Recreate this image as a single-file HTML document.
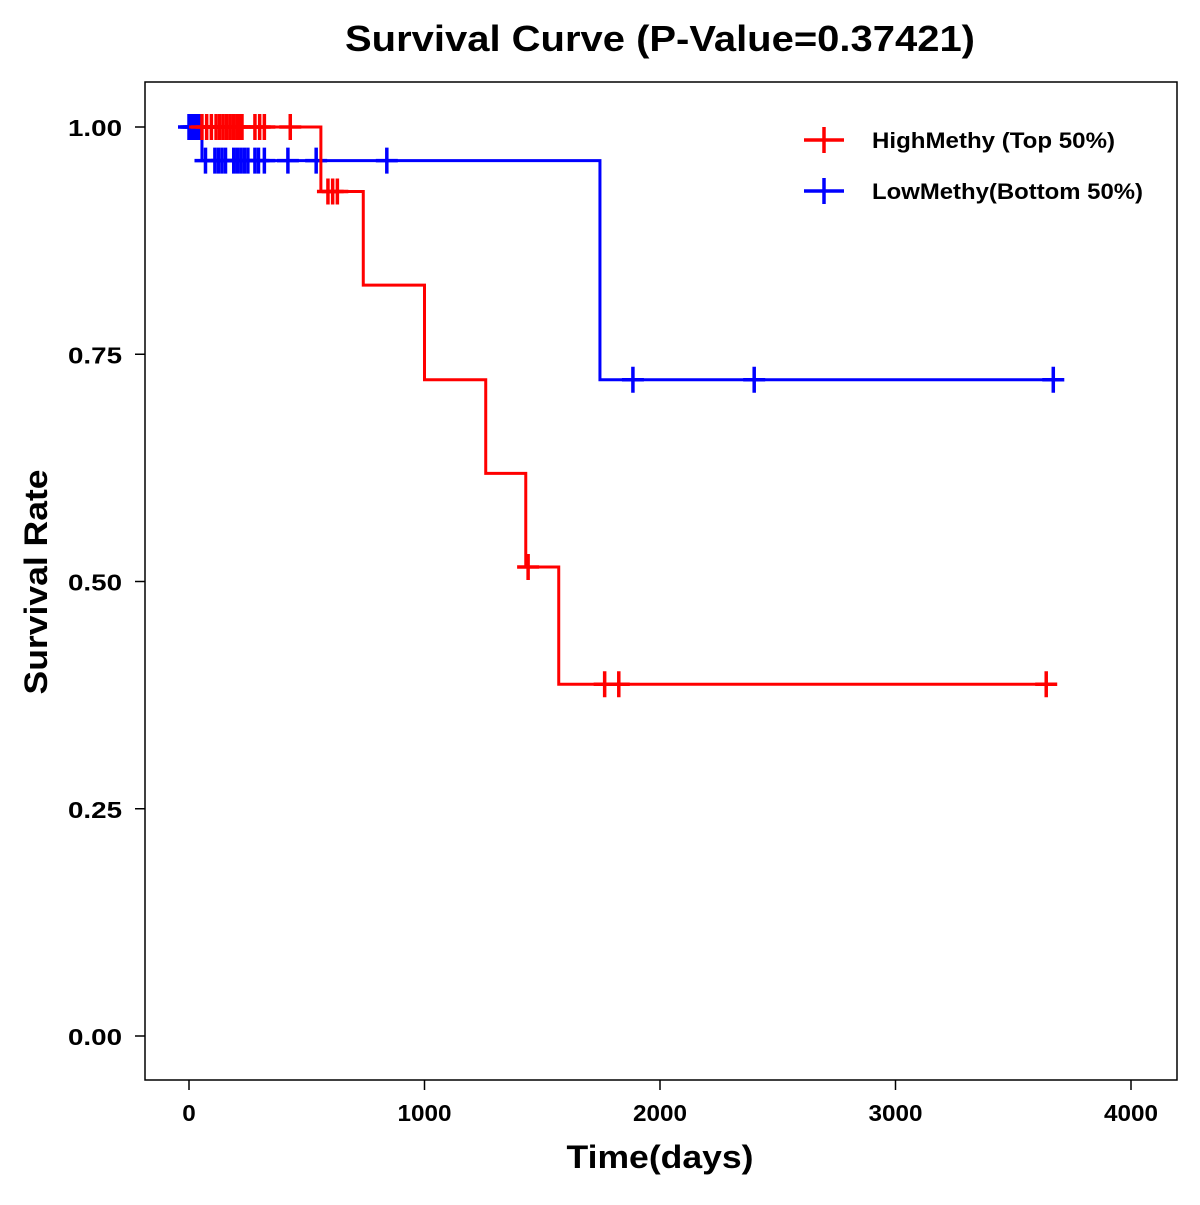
<!DOCTYPE html>
<html><head><meta charset="utf-8"><style>
body{margin:0;background:#fff}
svg text{font-family:"Liberation Sans",Arial,sans-serif;font-weight:bold}
</style></head><body>
<svg id="chart" width="1200" height="1200">
<rect width="1200" height="1200" fill="#fff"/>
<text x="660" y="51" text-anchor="middle" font-size="36" textLength="630" lengthAdjust="spacingAndGlyphs">Survival Curve (P-Value=0.37421)</text>
<rect x="145" y="82" width="1032" height="998" fill="none" stroke="#000" stroke-width="1.5"/>
<g id="axes"></g>
<g id="series"></g>
<text x="660" y="1168" text-anchor="middle" font-size="32" textLength="187" lengthAdjust="spacingAndGlyphs">Time(days)</text>
<text transform="translate(47,582) rotate(-90)" text-anchor="middle" font-size="32" textLength="225" lengthAdjust="spacingAndGlyphs">Survival Rate</text>
<g>
<g>
<line x1="804" y1="140" x2="844" y2="140" stroke="#f00" stroke-width="3.5"/><line x1="824" y1="127" x2="824" y2="153" stroke="#f00" stroke-width="3.5"/>
<text x="872" y="148" font-size="22" textLength="243" lengthAdjust="spacingAndGlyphs">HighMethy (Top 50%)</text></g>
<g>
<line x1="804" y1="191" x2="844" y2="191" stroke="#00f" stroke-width="3.5"/><line x1="824" y1="178" x2="824" y2="204" stroke="#00f" stroke-width="3.5"/>
<text x="872" y="199" font-size="22" textLength="271" lengthAdjust="spacingAndGlyphs">LowMethy(Bottom 50%)</text></g>
</g>
</svg>
<script>
const xTicks=[0,1000,2000,3000,4000];
const yTicks=[0,0.25,0.5,0.75,1.0];
const yTickLabels=["0.00","0.25","0.50","0.75","1.00"];
const highTimes=[0,560,740,1000,1260,1430,1570];
const highSurv=[1.0,0.929,0.826,0.722,0.619,0.516,0.387];
const highEnd=3680;
const highCensor=[55,75,95,115,130,145,160,175,190,205,215,225,280,300,320,430,590,610,630,1440,1765,1825,3640];
const lowTimes=[0,55,1745];
const lowSurv=[1.0,0.963,0.722];
const lowEnd=3700;
const lowCensor=[0,10,20,30,40,50,70,110,125,140,155,190,205,220,235,250,280,295,320,420,540,840,1885,2400,3670];
const NS="http://www.w3.org/2000/svg";
const X=t=>189+t*0.2355, Y=s=>1036-s*909;
function mk(tag,attrs,parent){const e=document.createElementNS(NS,tag);for(const k in attrs)e.setAttribute(k,attrs[k]);parent.appendChild(e);return e;}
const ax=document.getElementById('axes');
xTicks.forEach(t=>{const l=mk('line',{x1:X(t),x2:X(t),y1:1080,y2:1090,stroke:'#000','stroke-width':1.5},ax);


const s=String(t);
const tx=mk('text',{x:X(t),y:1121,'text-anchor':'middle','font-size':23,textLength:s.length*13.5,lengthAdjust:'spacingAndGlyphs'},ax);tx.textContent=s;

});
yTicks.forEach((v,i)=>{const l=mk('line',{x1:135,x2:145,y1:Y(v),y2:Y(v),stroke:'#000','stroke-width':1.5},ax);


const tx=mk('text',{x:122,y:Y(v)+9,'text-anchor':'end','font-size':23,textLength:54,lengthAdjust:'spacingAndGlyphs'},ax);tx.textContent=yTickLabels[i];

});
const sg=document.getElementById('series');
function surv(times,s,t){let v=s[0];for(let i=0;i<times.length;i++)if(times[i]<=t)v=s[i];return v;}
function draw(times,s,end,cens,col,name){
 const g=mk('g',{},sg);
 
 
 let d='M'+X(times[0])+','+Y(s[0]);
 for(let i=1;i<times.length;i++){d+=' H'+X(times[i])+' V'+Y(s[i]);}
 d+=' H'+X(end);
 const p=mk('path',{d:d,fill:'none',stroke:col,'stroke-width':3},g);
 
 
 cens.forEach(t=>{const v=surv(times,s,t);const cx=X(t),cy=Y(v);
  const c=mk('path',{d:`M${cx-11},${cy} H${cx+11} M${cx},${cy-13} V${cy+13}`,stroke:col,'stroke-width':3.5},g);
  
  });
}
draw(lowTimes,lowSurv,lowEnd,lowCensor,'#00f','low-methy');
draw(highTimes,highSurv,highEnd,highCensor,'#f00','high-methy');
</script>
</body></html>
